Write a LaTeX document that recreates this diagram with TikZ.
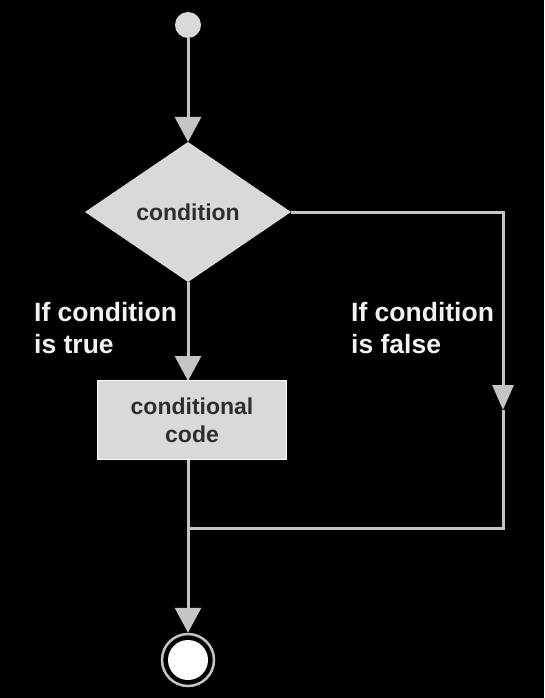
\documentclass[tikz,border=0pt]{standalone}
\usepackage{fontspec}
\setmainfont{Liberation Sans}
\usetikzlibrary{shapes.geometric,arrows.meta}
\definecolor{linegray}{HTML}{C4C4C4}
\definecolor{shapegray}{HTML}{D9D9D9}
\definecolor{textdark}{HTML}{2E2E2E}
\definecolor{labelwhite}{HTML}{F2F2F2}
\begin{document}
\begin{tikzpicture}[x=1pt,y=-1pt,
  conn/.style={draw=linegray,line width=3pt},
  arr/.style={conn,-{Triangle[width=26pt,length=25pt,fill=linegray]}},
  arrsmall/.style={conn,-{Triangle[width=21pt,length=25pt,fill=linegray]}},
  decision/.style={shape=diamond,fill=shapegray,draw=none,inner sep=0pt,outer sep=0pt,
    minimum width=206pt,minimum height=140pt,aspect=1.47,
    font=\fontsize{23}{28}\selectfont\bfseries,text=textdark},
  process/.style={rectangle,fill=shapegray,draw=white!85!shapegray,line width=1pt,
    minimum width=189pt,minimum height=79pt,inner sep=0pt,align=center,
    font=\fontsize{23}{28}\selectfont\bfseries,text=textdark},
  lbl/.style={anchor=north west,align=left,inner sep=0pt,text=labelwhite,
    font=\fontsize{26.5}{32}\selectfont\bfseries},
  startdot/.style={circle,fill=shapegray,minimum size=26pt,inner sep=0pt},
  enddot/.style={circle,draw=linegray,line width=2.5pt,fill=black,minimum size=52pt,inner sep=0pt},
]
\fill[black] (0,0) rectangle (544,698);
\useasboundingbox (0,0) rectangle (544,698);

\node[startdot] (start) at (188,25) {};
\node[decision] (cond) at (188,212) {condition};
\node[process] (code) at (192,420) {conditional\\code};
\node[enddot] (end) at (188,660) {};
\fill[white] (end.center) circle (20pt);

\coordinate (fa) at (503,410);
\coordinate (join) at (188,528);
\coordinate (ctop) at (188,381);
\coordinate (cbot) at (188,460);

\draw[arr] (start) -- (cond.north);
\draw[arr] (cond.south) -- (ctop);
\draw[arrsmall] (cond.east) -| (fa);
\draw[conn] (fa) |- (join);
\draw[arr] (cbot) -- (end.north);

\node[lbl] at (34,302) {If condition\\is true};
\node[lbl] at (351,302) {If condition\\is false};
\end{tikzpicture}
\end{document}
